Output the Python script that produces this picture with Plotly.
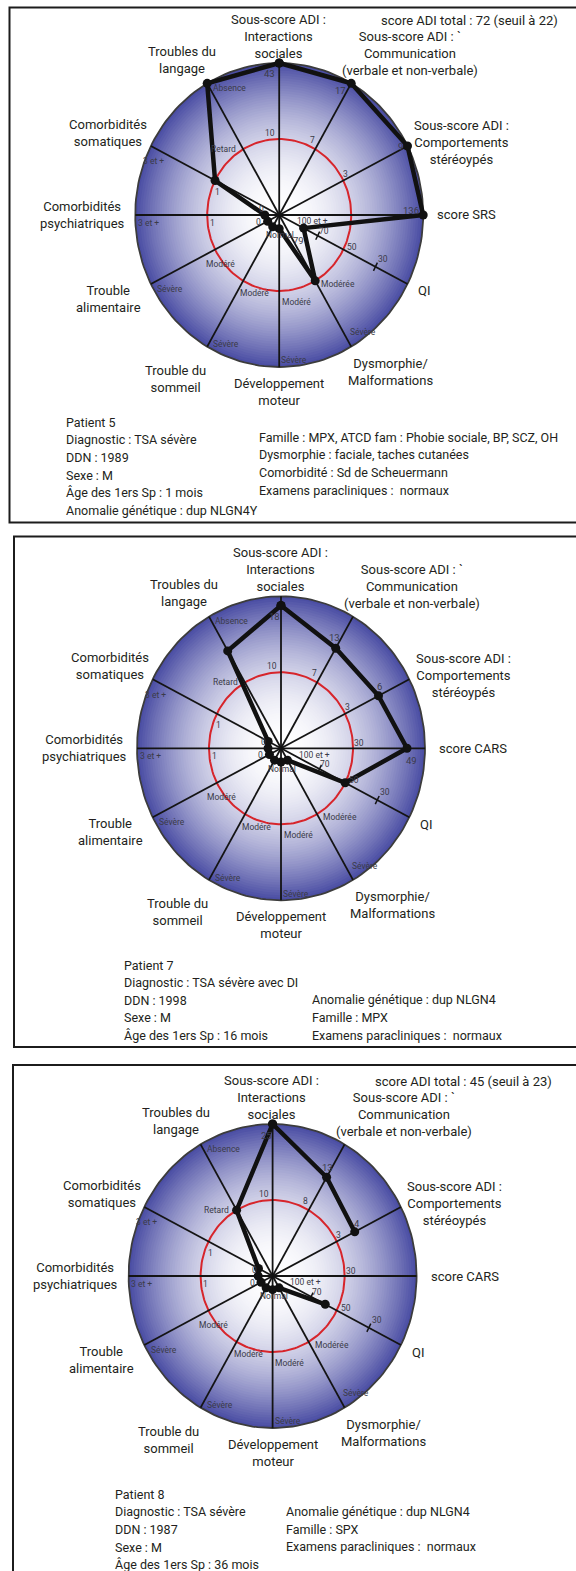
import numpy as np
import plotly.graph_objects as go

W, H = 576, 1571
RX, RY = 144, 152          # half axes of each radar ellipse (px)
FONT = "Roboto"
INK = "#231f20"
TICK_INK = "#3b3b48"

# 12 spokes, clockwise from the top
spoke_names = ["Interactions sociales", "Communication", "Comportements stéréotypés",
               "score SRS / CARS", "QI", "Dysmorphie", "Développement moteur",
               "Trouble du sommeil", "Trouble alimentaire", "Comorbidités psychiatriques",
               "Comorbidités somatiques", "Troubles du langage"]
spoke_angles = [90, 60, 27, 0, -27, -60, -90, -120, -153, 180, 153, 120]

# patient position on each spoke, as a fraction of the spoke length (None = not assessed)
p5_r = [1.0, 1.0, 1.0, 1.0, 0.19, 0.5, 0.09, 0.09, 0.09, 0.10, 0.5, 1.0]
p7_r = [0.94, 0.76, 0.76, 0.875, 0.5, 0.09, 0.09, 0.09, 0.09, 0.09, 0.10, 0.74]
p8_r = [1.0, 0.75, 0.64, None, 0.41, 0.09, 0.09, 0.09, 0.09, 0.10, 0.11, 0.5]

# raw scores written next to the points (spokes 0..n)
p5_vals = ["43", "17", "9", "136", "79"]
p7_vals = ["18", "13", "6", "49"]
p8_vals = ["25", "13", "4"]

# graduations on the spokes: spoke, position, text
common_ticks = [
    (0, 0.5, "10"), (2, 0.5, "3"),
    (4, 0.15, "100 et +"), (4, 0.3, "70"), (4, 0.5, "50"), (4, 0.75, "30"),
    (5, 0.5, "Modérée"), (5, 0.9, "Sévère"),
    (6, 0.1, "Normal"), (6, 0.55, "Modéré"), (6, 0.93, "Sévère"),
    (7, 0.55, "Modéré"), (7, 0.93, "Sévère"),
    (8, 0.5, "Modéré"), (8, 0.95, "Sévère"),
    (9, 0.1, "0"), (9, 0.5, "1"), (9, 0.95, "3 et +"),
    (10, 0.1, "0"), (10, 0.5, "1"), (10, 0.95, "3 et +"),
    (11, 0.5, "Retard"), (11, 0.95, "Absence"),
]
# pixel offsets of the graduation texts (same order)
tick_shift = [(-9, -6), (2, -7),
              (14, -4), (6, -5), (9, -3), (8, -8),
              (23, 3), (19, -1),
              (1, 5), (17, 3), (15, 4),
              (15, 6), (14, 7),
              (5, 14), (13, 8),
              (-6, 7), (5, 8), (6, 8),
              (-5, 1), (2, 11), (-4, 12),
              (-20, 0), (19, -2)]

cat_labels = [
    ("Sous-score ADI :<br>Interactions<br>sociales", -1, -179, "center"),
    ("Sous-score ADI : `<br>Communication<br>(verbale et non-verbale)", 131, -162, "center"),
    ("Sous-score ADI :<br>Comportements<br>stéréoypés", 182, -73, "center"),
    ("QI", 145, 76, "center"),
    ("Dysmorphie/<br>Malformations", 111, 157, "center"),
    ("Développement<br>moteur", 0, 177, "center"),
    ("Trouble du<br>sommeil", -104, 164, "center"),
    ("Trouble<br>alimentaire", -171, 84, "center"),
    ("Comorbidités<br>psychiatriques", -197, 0, "center"),
    ("Comorbidités<br>somatiques", -171, -82, "center"),
    ("Troubles du<br>langage", -97, -155, "center"),
]

panels = [
    dict(c=(279.2, 215), box=(9.5, 7.5, 578, 522.5), r=p5_r, vals=p5_vals,
         val_shift=[(-10, 11), (-11, 7), (-7, 1), (-12, -5), (-5, 12)],
         score="score SRS", comm_tick="7", cars_tick=False,
         adi="score ADI total : 72 (seuil à 22)",
         left=(64, 422.3, ["Patient 5", "Diagnostic : TSA sévère", "DDN : 1989", "Sexe : M",
                           "Âge des 1ers Sp : 1 mois", "Anomalie génétique : dup NLGN4Y"]),
         right=(257, 437.3, ["Famille : MPX, ATCD fam : Phobie sociale, BP, SCZ, OH",
                             "Dysmorphie : faciale, taches cutanées",
                             "Comorbidité : Sd de Scheuermann",
                             "Examens paracliniques :  normaux"])),
    dict(c=(281, 748.3), box=(14, 536.5, 578, 1047), r=p7_r, vals=p7_vals,
         val_shift=[(-7, 11), (-1, -11), (1, -9), (4, 12)],
         score="score CARS", comm_tick="7", cars_tick=True, adi=None,
         left=(122, 965, ["Patient 7", "Diagnostic : TSA sévère avec DI", "DDN : 1998", "Sexe : M",
                          "Âge des 1ers Sp : 16 mois"]),
         right=(309.7, 1000, ["Anomalie génétique : dup NLGN4", "Famille : MPX",
                              "Examens paracliniques :  normaux"])),
    dict(c=(272.6, 1276), box=(13, 1065, 578, 1580), r=p8_r, vals=p8_vals,
         val_shift=[(-6, 11), (1, -10), (2, -8)],
         score="score CARS", comm_tick="8", cars_tick=True,
         adi="score ADI total : 45 (seuil à 23)",
         left=(113.2, 1494.3, ["Patient 8", "Diagnostic : TSA sévère", "DDN : 1987", "Sexe : M",
                               "Âge des 1ers Sp : 36 mois"]),
         right=(283.6, 1511.7, ["Anomalie génétique : dup NLGN4", "Famille : SPX",
                                "Examens paracliniques :  normaux"])),
]

EDGE = np.array([72, 75, 162])
WHITE = np.array([255, 255, 255])


def ring_color(r):
    c = WHITE + (EDGE - WHITE) * r ** 2
    return "rgb(%d,%d,%d)" % tuple(np.round(c))


def px2paper(x, y):
    return x / W, 1 - y / H


fig = go.Figure()
annotations = []
shapes = []
t = np.linspace(0, 2 * np.pi, 181)
ang = np.radians(spoke_angles)

for k, p in enumerate(panels):
    sfx = "" if k == 0 else str(k + 1)
    xa, ya = "x" + sfx, "y" + sfx
    cx, cy = p["c"]
    fig.update_layout({
        "xaxis" + sfx: dict(domain=[(cx - 1.2 * RX) / W, (cx + 1.2 * RX) / W], range=[-1.2, 1.2],
                            visible=False, fixedrange=True),
        "yaxis" + sfx: dict(domain=[1 - (cy + 1.2 * RY) / H, 1 - (cy - 1.2 * RY) / H],
                            range=[-1.2, 1.2], visible=False, fixedrange=True),
    })

    # radial gradient background
    n = 60
    for i in range(n):
        rr = 1 - i / n
        fig.add_trace(go.Scatter(x=rr * np.cos(t), y=rr * np.sin(t), mode="lines", fill="toself",
                                 fillcolor=ring_color(rr - 0.5 / n), line=dict(width=0),
                                 hoverinfo="skip", showlegend=False, xaxis=xa, yaxis=ya))
    # outline + threshold circle
    fig.add_trace(go.Scatter(x=np.cos(t), y=np.sin(t), mode="lines",
                             line=dict(color="#3c3c3c", width=1.8),
                             hoverinfo="skip", showlegend=False, xaxis=xa, yaxis=ya))
    fig.add_trace(go.Scatter(x=0.5 * np.cos(t), y=0.5 * np.sin(t), mode="lines",
                             line=dict(color="#d7252b", width=2),
                             hoverinfo="skip", showlegend=False, xaxis=xa, yaxis=ya))
    # spokes
    sx, sy = [], []
    for a in ang:
        sx += [0, np.cos(a), None]
        sy += [0, np.sin(a), None]
    fig.add_trace(go.Scatter(x=sx, y=sy, mode="lines", line=dict(color="#141414", width=1.8),
                             hoverinfo="skip", showlegend=False, xaxis=xa, yaxis=ya))
    # little tick marks on the QI spoke
    a4 = ang[4]
    mx, my = [], []
    for rr in (0.3, 0.75):
        bx, by = rr * np.cos(a4), rr * np.sin(a4)
        px_, py_ = -np.sin(a4) * 0.03, np.cos(a4) * 0.03
        mx += [bx - px_, bx + px_, None]
        my += [by - py_, by + py_, None]
    fig.add_trace(go.Scatter(x=mx, y=my, mode="lines", line=dict(color="#141414", width=1.5),
                             hoverinfo="skip", showlegend=False, xaxis=xa, yaxis=ya))

    # patient profile
    rs = p["r"] + [p["r"][0]]
    aa = list(ang) + [ang[0]]
    px = [None if r is None else r * np.cos(a) for r, a in zip(rs, aa)]
    py = [None if r is None else r * np.sin(a) for r, a in zip(rs, aa)]
    fig.add_trace(go.Scatter(x=px, y=py, mode="lines+markers", connectgaps=False,
                             line=dict(color="#111111", width=4.5),
                             marker=dict(color="#111111", size=9),
                             hoverinfo="skip", showlegend=False, xaxis=xa, yaxis=ya))

    # graduations
    ticks = list(zip(common_ticks, tick_shift))
    ticks.append(((1, 0.5, p["comm_tick"]), (-3, -9)))
    if p["cars_tick"]:
        ticks.append(((3, 0.5, "30"), (6, -5)))
    for (si, rr, txt), (dx, dy) in ticks:
        annotations.append(dict(x=rr * np.cos(ang[si]), y=rr * np.sin(ang[si]), xref=xa, yref=ya,
                                text=txt, showarrow=False, xshift=dx, yshift=-dy,
                                font=dict(family=FONT, size=8.5, color=TICK_INK)))
    # raw values next to the points
    for si, (txt, (dx, dy)) in enumerate(zip(p["vals"], p["val_shift"])):
        rr = p["r"][si]
        annotations.append(dict(x=rr * np.cos(ang[si]), y=rr * np.sin(ang[si]), xref=xa, yref=ya,
                                text=txt, showarrow=False, xshift=dx, yshift=-dy,
                                font=dict(family=FONT, size=9.5, color=TICK_INK)))

    # spoke titles
    for txt, dx, dy, anc in cat_labels + [(p["score"], 156, 0, "left")]:
        x, y = px2paper(cx + dx, cy + dy)
        annotations.append(dict(x=x, y=y, xref="paper", yref="paper", text=txt, showarrow=False,
                                xanchor=anc, yanchor="middle", align="center",
                                font=dict(family=FONT, size=13, color=INK)))
    if p["adi"]:
        x, y = px2paper(cx + 190.5, cy - 195)
        annotations.append(dict(x=x, y=y, xref="paper", yref="paper", text=p["adi"], showarrow=False,
                                xanchor="center", yanchor="middle",
                                font=dict(family=FONT, size=13, color=INK)))

    # patient info
    for (x0, y0, lines) in (p["left"], p["right"]):
        for j, line in enumerate(lines):
            x, y = px2paper(x0, y0 + j * 17.6)
            annotations.append(dict(x=x, y=y, xref="paper", yref="paper", text=line, showarrow=False,
                                    xanchor="left", yanchor="middle",
                                    font=dict(family=FONT, size=12.5, color=INK)))

    # panel frame
    bx0, by0, bx1, by1 = p["box"]
    x0, y0 = px2paper(bx0, by0)
    x1, y1 = px2paper(bx1, by1)
    shapes.append(dict(type="rect", xref="paper", yref="paper", x0=x0, y0=y1, x1=x1, y1=y0,
                       line=dict(color="#1c1c1c", width=2)))

fig.update_layout(width=W, height=H, margin=dict(l=0, r=0, t=0, b=0),
                  paper_bgcolor="white", plot_bgcolor="white",
                  annotations=annotations, shapes=shapes, showlegend=False)

fig.write_html("out.html", config={"displayModeBar": False},
               post_script="document.body.style.margin='0';")
